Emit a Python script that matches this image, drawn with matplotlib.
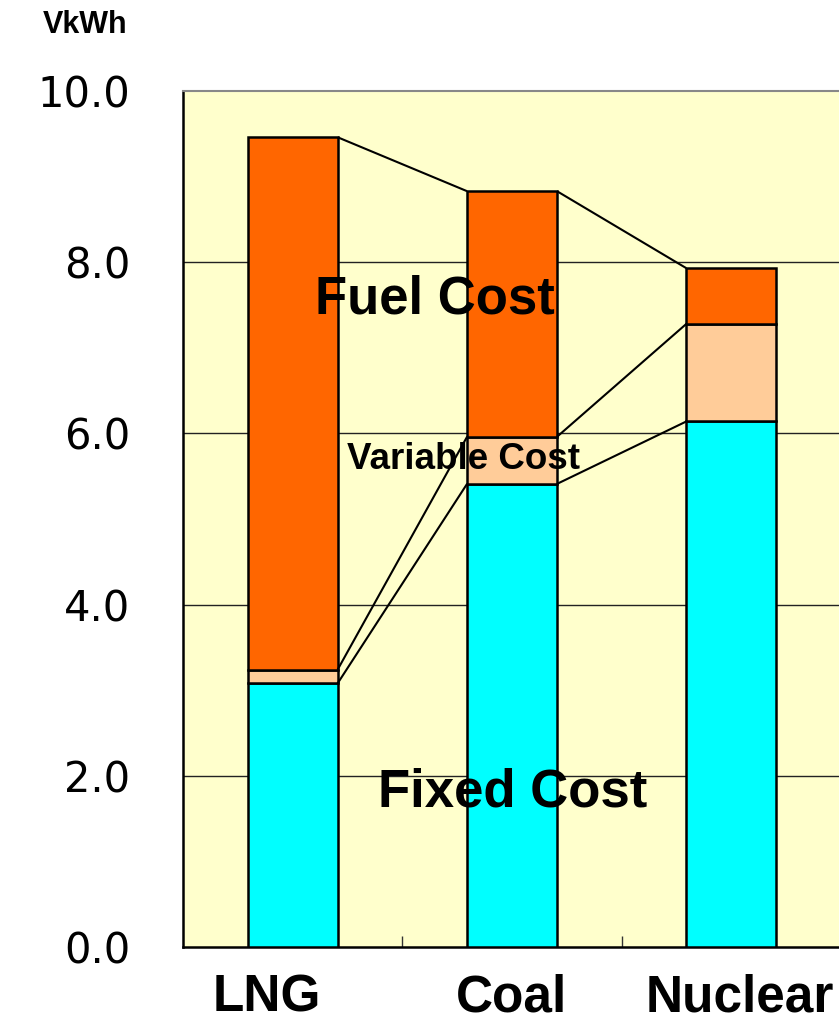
import matplotlib
matplotlib.use("Agg")
import matplotlib.pyplot as plt
import matplotlib.transforms as mtransforms
import numpy as np

# 발전원별 단가 (엔/kWh) - 그림에서 읽은 값
plants = ["LNG", "Coal", "Nuclear"]
fixed_cost = [3.08, 5.41, 6.14]
variable_cost = [0.16, 0.55, 1.14]
fuel_cost = [6.22, 2.87, 0.65]
y_ticks = [0.0, 2.0, 4.0, 6.0, 8.0, 10.0]

c_fixed = "#00FFFF"
c_var = "#FFCC99"
c_fuel = "#FF6600"
bg = "#FFFFCC"
bar_w = 0.41

fig = plt.figure(figsize=(8.39, 10.25), dpi=100)
ax = fig.add_axes([0.2181, 0.0761, 0.7843, 0.8351])
ax.set_facecolor(bg)

x = np.arange(len(plants))
fixed = np.array(fixed_cost)
var = np.array(variable_cost)
fuel = np.array(fuel_cost)

# 그리드
for yv in y_ticks[1:-1]:
    ax.axhline(yv, color="#222222", lw=1.0, zorder=1)

# 누적 막대
ax.bar(x, fixed, bar_w, color=c_fixed, edgecolor="black", lw=1.8, zorder=3)
ax.bar(x, var, bar_w, bottom=fixed, color=c_var, edgecolor="black", lw=1.8, zorder=3)
ax.bar(x, fuel, bar_w, bottom=fixed + var, color=c_fuel, edgecolor="black", lw=1.8, zorder=3)

# 막대 사이 연결선
levels = [fixed, fixed + var, fixed + var + fuel]
for lv in levels:
    for i in range(len(plants) - 1):
        ax.plot([x[i] + bar_w / 2, x[i + 1] - bar_w / 2], [lv[i], lv[i + 1]],
                color="black", lw=1.5, zorder=4, solid_capstyle="butt")

ax.set_xlim(-0.5, len(plants) - 0.5)
ax.set_ylim(0, 10)

ax.set_yticks(y_ticks)
ax.set_yticklabels([f"{v:.1f}" for v in y_ticks], fontsize=30, family="DejaVu Sans")
ax.tick_params(axis="y", length=0, pad=38)

ax.set_xticks(x)
ax.set_xticklabels(plants, fontsize=37, fontweight="bold", family="Liberation Sans")
ax.tick_params(axis="x", length=0, pad=19)
ax.set_xticks(x[:-1] + 0.5, minor=True)
ax.tick_params(axis="x", which="minor", direction="in", length=8, width=1, color="#333333")

# LNG 라벨은 왼쪽, Nuclear 라벨은 오른쪽으로 약간 이동
lbls = ax.get_xticklabels()
lbls[0].set_transform(lbls[0].get_transform() + mtransforms.ScaledTranslation(-0.26, 0, fig.dpi_scale_trans))
lbls[2].set_transform(lbls[2].get_transform() + mtransforms.ScaledTranslation(0.08, 0, fig.dpi_scale_trans))

for s in ["left", "bottom"]:
    ax.spines[s].set_color("black")
    ax.spines[s].set_linewidth(1.8)
ax.spines["top"].set_color("#888888")
ax.spines["top"].set_linewidth(1.5)
ax.spines["right"].set_visible(False)

ax.text(0.649, 7.56, "Fuel Cost", fontsize=38, fontweight="bold", family="Liberation Sans",
        ha="center", va="center", zorder=5)
ax.text(0.777, 5.70, "Variable Cost", fontsize=26.5, fontweight="bold", family="Liberation Sans",
        ha="center", va="center", zorder=5)
ax.text(1.005, 1.80, "Fixed Cost", fontsize=38, fontweight="bold", family="Liberation Sans",
        ha="center", va="center", zorder=5)

fig.text(0.101, 0.976, "VkWh", fontsize=22, fontweight="bold", family="Liberation Sans",
         ha="center", va="center")

fig.savefig("out.png", dpi=100)
